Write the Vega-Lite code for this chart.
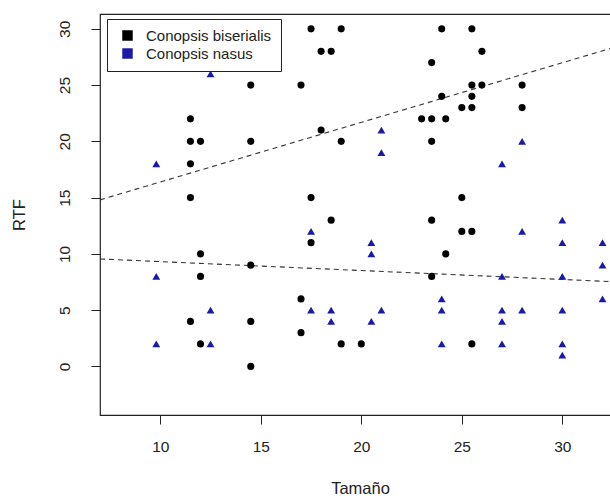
{
  "$schema": "https://vega.github.io/schema/vega-lite/v6.json",
  "width": 520,
  "height": 401,
  "autosize": {"type": "none"},
  "padding": {"left": 100, "top": 14, "right": 0, "bottom": 81},
  "background": "white",
  "config": {
    "font": "Liberation Sans",
    "view": {"stroke": "#222", "strokeWidth": 1.2},
    "axis": {"grid": false, "domain": false, "tickColor": "#222", "tickSize": 9, "labelColor": "#222", "titleColor": "#222", "labelFontSize": 15.5, "titleFontSize": 16.5, "titleFontWeight": "normal"}
  },
  "datasets": {
    "pts": [
      {"Tamano": 17.5, "RTF": 30, "sp": "Conopsis biserialis"},
      {"Tamano": 19, "RTF": 30, "sp": "Conopsis biserialis"},
      {"Tamano": 18, "RTF": 28, "sp": "Conopsis biserialis"},
      {"Tamano": 18.5, "RTF": 28, "sp": "Conopsis biserialis"},
      {"Tamano": 14.5, "RTF": 25, "sp": "Conopsis biserialis"},
      {"Tamano": 17, "RTF": 25, "sp": "Conopsis biserialis"},
      {"Tamano": 11.5, "RTF": 22, "sp": "Conopsis biserialis"},
      {"Tamano": 11.5, "RTF": 20, "sp": "Conopsis biserialis"},
      {"Tamano": 12, "RTF": 20, "sp": "Conopsis biserialis"},
      {"Tamano": 14.5, "RTF": 20, "sp": "Conopsis biserialis"},
      {"Tamano": 18, "RTF": 21, "sp": "Conopsis biserialis"},
      {"Tamano": 19, "RTF": 20, "sp": "Conopsis biserialis"},
      {"Tamano": 11.5, "RTF": 18, "sp": "Conopsis biserialis"},
      {"Tamano": 11.5, "RTF": 15, "sp": "Conopsis biserialis"},
      {"Tamano": 17.5, "RTF": 15, "sp": "Conopsis biserialis"},
      {"Tamano": 18.5, "RTF": 13, "sp": "Conopsis biserialis"},
      {"Tamano": 24, "RTF": 30, "sp": "Conopsis biserialis"},
      {"Tamano": 25.5, "RTF": 30, "sp": "Conopsis biserialis"},
      {"Tamano": 26, "RTF": 28, "sp": "Conopsis biserialis"},
      {"Tamano": 23.5, "RTF": 27, "sp": "Conopsis biserialis"},
      {"Tamano": 25.5, "RTF": 25, "sp": "Conopsis biserialis"},
      {"Tamano": 26, "RTF": 25, "sp": "Conopsis biserialis"},
      {"Tamano": 28, "RTF": 25, "sp": "Conopsis biserialis"},
      {"Tamano": 24, "RTF": 24, "sp": "Conopsis biserialis"},
      {"Tamano": 25.5, "RTF": 24, "sp": "Conopsis biserialis"},
      {"Tamano": 25, "RTF": 23, "sp": "Conopsis biserialis"},
      {"Tamano": 25.5, "RTF": 23, "sp": "Conopsis biserialis"},
      {"Tamano": 28, "RTF": 23, "sp": "Conopsis biserialis"},
      {"Tamano": 23, "RTF": 22, "sp": "Conopsis biserialis"},
      {"Tamano": 23.5, "RTF": 22, "sp": "Conopsis biserialis"},
      {"Tamano": 24.2, "RTF": 22, "sp": "Conopsis biserialis"},
      {"Tamano": 23.5, "RTF": 20, "sp": "Conopsis biserialis"},
      {"Tamano": 25, "RTF": 15, "sp": "Conopsis biserialis"},
      {"Tamano": 23.5, "RTF": 13, "sp": "Conopsis biserialis"},
      {"Tamano": 17.5, "RTF": 11, "sp": "Conopsis biserialis"},
      {"Tamano": 12, "RTF": 10, "sp": "Conopsis biserialis"},
      {"Tamano": 14.5, "RTF": 9, "sp": "Conopsis biserialis"},
      {"Tamano": 12, "RTF": 8, "sp": "Conopsis biserialis"},
      {"Tamano": 17, "RTF": 6, "sp": "Conopsis biserialis"},
      {"Tamano": 11.5, "RTF": 4, "sp": "Conopsis biserialis"},
      {"Tamano": 14.5, "RTF": 4, "sp": "Conopsis biserialis"},
      {"Tamano": 17, "RTF": 3, "sp": "Conopsis biserialis"},
      {"Tamano": 12, "RTF": 2, "sp": "Conopsis biserialis"},
      {"Tamano": 19, "RTF": 2, "sp": "Conopsis biserialis"},
      {"Tamano": 20, "RTF": 2, "sp": "Conopsis biserialis"},
      {"Tamano": 14.5, "RTF": 0, "sp": "Conopsis biserialis"},
      {"Tamano": 25, "RTF": 12, "sp": "Conopsis biserialis"},
      {"Tamano": 25.5, "RTF": 12, "sp": "Conopsis biserialis"},
      {"Tamano": 24.2, "RTF": 10, "sp": "Conopsis biserialis"},
      {"Tamano": 23.5, "RTF": 8, "sp": "Conopsis biserialis"},
      {"Tamano": 25.5, "RTF": 2, "sp": "Conopsis biserialis"},
      {"Tamano": 12.5, "RTF": 26, "sp": "Conopsis nasus"},
      {"Tamano": 9.8, "RTF": 18, "sp": "Conopsis nasus"},
      {"Tamano": 21, "RTF": 21, "sp": "Conopsis nasus"},
      {"Tamano": 21, "RTF": 19, "sp": "Conopsis nasus"},
      {"Tamano": 28, "RTF": 20, "sp": "Conopsis nasus"},
      {"Tamano": 27, "RTF": 18, "sp": "Conopsis nasus"},
      {"Tamano": 30, "RTF": 13, "sp": "Conopsis nasus"},
      {"Tamano": 17.5, "RTF": 12, "sp": "Conopsis nasus"},
      {"Tamano": 9.8, "RTF": 8, "sp": "Conopsis nasus"},
      {"Tamano": 12.5, "RTF": 5, "sp": "Conopsis nasus"},
      {"Tamano": 17.5, "RTF": 5, "sp": "Conopsis nasus"},
      {"Tamano": 18.5, "RTF": 5, "sp": "Conopsis nasus"},
      {"Tamano": 18.5, "RTF": 4, "sp": "Conopsis nasus"},
      {"Tamano": 9.8, "RTF": 2, "sp": "Conopsis nasus"},
      {"Tamano": 12.5, "RTF": 2, "sp": "Conopsis nasus"},
      {"Tamano": 28, "RTF": 12, "sp": "Conopsis nasus"},
      {"Tamano": 20.5, "RTF": 11, "sp": "Conopsis nasus"},
      {"Tamano": 30, "RTF": 11, "sp": "Conopsis nasus"},
      {"Tamano": 32, "RTF": 11, "sp": "Conopsis nasus"},
      {"Tamano": 20.5, "RTF": 10, "sp": "Conopsis nasus"},
      {"Tamano": 32, "RTF": 9, "sp": "Conopsis nasus"},
      {"Tamano": 27, "RTF": 8, "sp": "Conopsis nasus"},
      {"Tamano": 30, "RTF": 8, "sp": "Conopsis nasus"},
      {"Tamano": 24, "RTF": 6, "sp": "Conopsis nasus"},
      {"Tamano": 32, "RTF": 6, "sp": "Conopsis nasus"},
      {"Tamano": 21, "RTF": 5, "sp": "Conopsis nasus"},
      {"Tamano": 24, "RTF": 5, "sp": "Conopsis nasus"},
      {"Tamano": 27, "RTF": 5, "sp": "Conopsis nasus"},
      {"Tamano": 28, "RTF": 5, "sp": "Conopsis nasus"},
      {"Tamano": 30, "RTF": 5, "sp": "Conopsis nasus"},
      {"Tamano": 20.5, "RTF": 4, "sp": "Conopsis nasus"},
      {"Tamano": 27, "RTF": 4, "sp": "Conopsis nasus"},
      {"Tamano": 24, "RTF": 2, "sp": "Conopsis nasus"},
      {"Tamano": 27, "RTF": 2, "sp": "Conopsis nasus"},
      {"Tamano": 30, "RTF": 2, "sp": "Conopsis nasus"},
      {"Tamano": 30, "RTF": 1, "sp": "Conopsis nasus"}
    ],
    "fits": [
      {"Tamano": 7, "RTF": 14.8, "sp": "Conopsis biserialis"},
      {"Tamano": 32.87, "RTF": 28.51, "sp": "Conopsis biserialis"},
      {"Tamano": 7, "RTF": 9.55, "sp": "Conopsis nasus"},
      {"Tamano": 32.87, "RTF": 7.5, "sp": "Conopsis nasus"}
    ]
  },
  "layer": [
    {
      "data": {"name": "fits"},
      "mark": {"type": "line", "color": "#333", "strokeWidth": 1.1, "strokeDash": [5, 4], "clip": true},
      "encoding": {
        "x": {"field": "Tamano", "type": "quantitative"},
        "y": {"field": "RTF", "type": "quantitative"},
        "detail": {"field": "sp"}
      }
    },
    {
      "data": {"name": "pts"},
      "mark": {"type": "point", "filled": true, "opacity": 1},
      "encoding": {
        "x": {"field": "Tamano", "type": "quantitative", "title": "Tamaño",
              "scale": {"domain": [7, 32.87], "nice": false, "zero": false},
              "axis": {"values": [10, 15, 20, 25, 30], "labelPadding": 15, "titlePadding": 26}},
        "y": {"field": "RTF", "type": "quantitative", "title": "RTF",
              "scale": {"domain": [-4.32, 31.32], "nice": false, "zero": false},
              "axis": {"values": [0, 5, 10, 15, 20, 25, 30], "labelAngle": -90, "labelAlign": "center", "labelBaseline": "bottom", "labelPadding": 19, "titlePadding": 30}},
        "color": {"field": "sp", "type": "nominal",
                  "scale": {"domain": ["Conopsis biserialis", "Conopsis nasus"], "range": ["#000000", "#1a1aa6"]},
                  "legend": {"title": null, "orient": "none", "legendX": 7, "legendY": 5, "symbolType": "square", "symbolSize": 110, "symbolStrokeWidth": 0, "symbolOffset": 4, "labelFontSize": 15, "labelColor": "#222", "strokeColor": "#222", "padding": 9, "rowPadding": 2, "labelOffset": 11, "fillColor": "white"}},
        "shape": {"condition": {"test": "datum.sp === 'Conopsis nasus'", "value": "triangle-up"}, "value": "circle"},
        "size": {"condition": {"test": "datum.sp === 'Conopsis nasus'", "value": 62}, "value": 50}
      }
    }
  ]
}
